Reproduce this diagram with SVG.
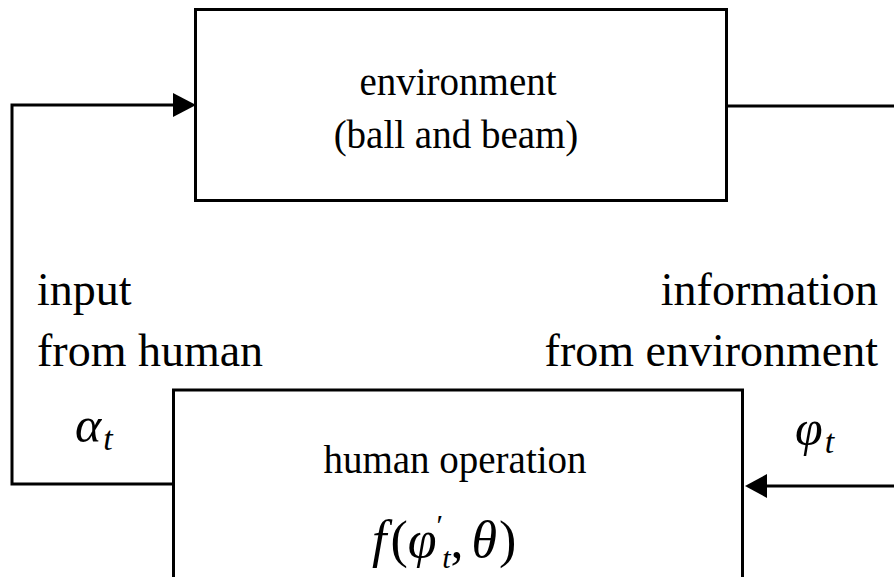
<svg xmlns="http://www.w3.org/2000/svg" width="894" height="577" viewBox="0 0 894 577">
<rect width="894" height="577" fill="#fff"/>
<g id="connectors" fill="none" stroke="#000" stroke-width="3">
<path d="M173,484 H12 V105 H180"/>
<polygon points="173,93 196,105 173,117" fill="#000" stroke="none"/>
<path d="M726,106 H894"/>
<path d="M894,486 H760"/>
<polygon points="767,474 745,486 767,498" fill="#000" stroke="none"/>
</g>
<g id="environment">
<rect x="195.5" y="9.5" width="531" height="191" fill="#fff" stroke="#000" stroke-width="3"/>
<text x="458" y="95" font-size="39" font-family="Times New Roman, serif" text-anchor="middle">environment</text>
<text x="456" y="148" font-size="39" font-family="Times New Roman, serif" text-anchor="middle">(ball and beam)</text>
</g>
<g id="human">
<rect x="173.5" y="390" width="569" height="200" fill="#fff" stroke="#000" stroke-width="3"/>
<text x="455" y="473" font-size="39" font-family="Times New Roman, serif" text-anchor="middle">human operation</text>
<text x="372" y="557" font-size="52" font-family="Times New Roman, serif"><tspan font-style="italic">f</tspan><tspan dx="4">(</tspan><tspan font-style="italic">φ</tspan><tspan font-size="30" dy="-22">′</tspan><tspan font-style="italic" font-size="30" dx="-1" dy="33">t</tspan><tspan dy="-11">,</tspan><tspan font-style="italic" dx="8">θ</tspan><tspan dx="2">)</tspan></text>
</g>
<g id="labels">
<text x="37" y="305" font-size="46" font-family="Times New Roman, serif">input</text>
<text x="37" y="366" font-size="46" font-family="Times New Roman, serif">from human</text>
<text x="878" y="305" font-size="46" font-family="Times New Roman, serif" text-anchor="end">information</text>
<text x="878" y="366" font-size="46" font-family="Times New Roman, serif" text-anchor="end">from environment</text>
<text x="75" y="442" font-size="50" font-family="Times New Roman, serif" font-style="italic">α<tspan font-size="34" dx="2" dy="8">t</tspan></text>
<text x="795" y="445" font-size="50" font-family="Times New Roman, serif" font-style="italic">φ<tspan font-size="34" dx="2" dy="8">t</tspan></text>
</g>
</svg>
